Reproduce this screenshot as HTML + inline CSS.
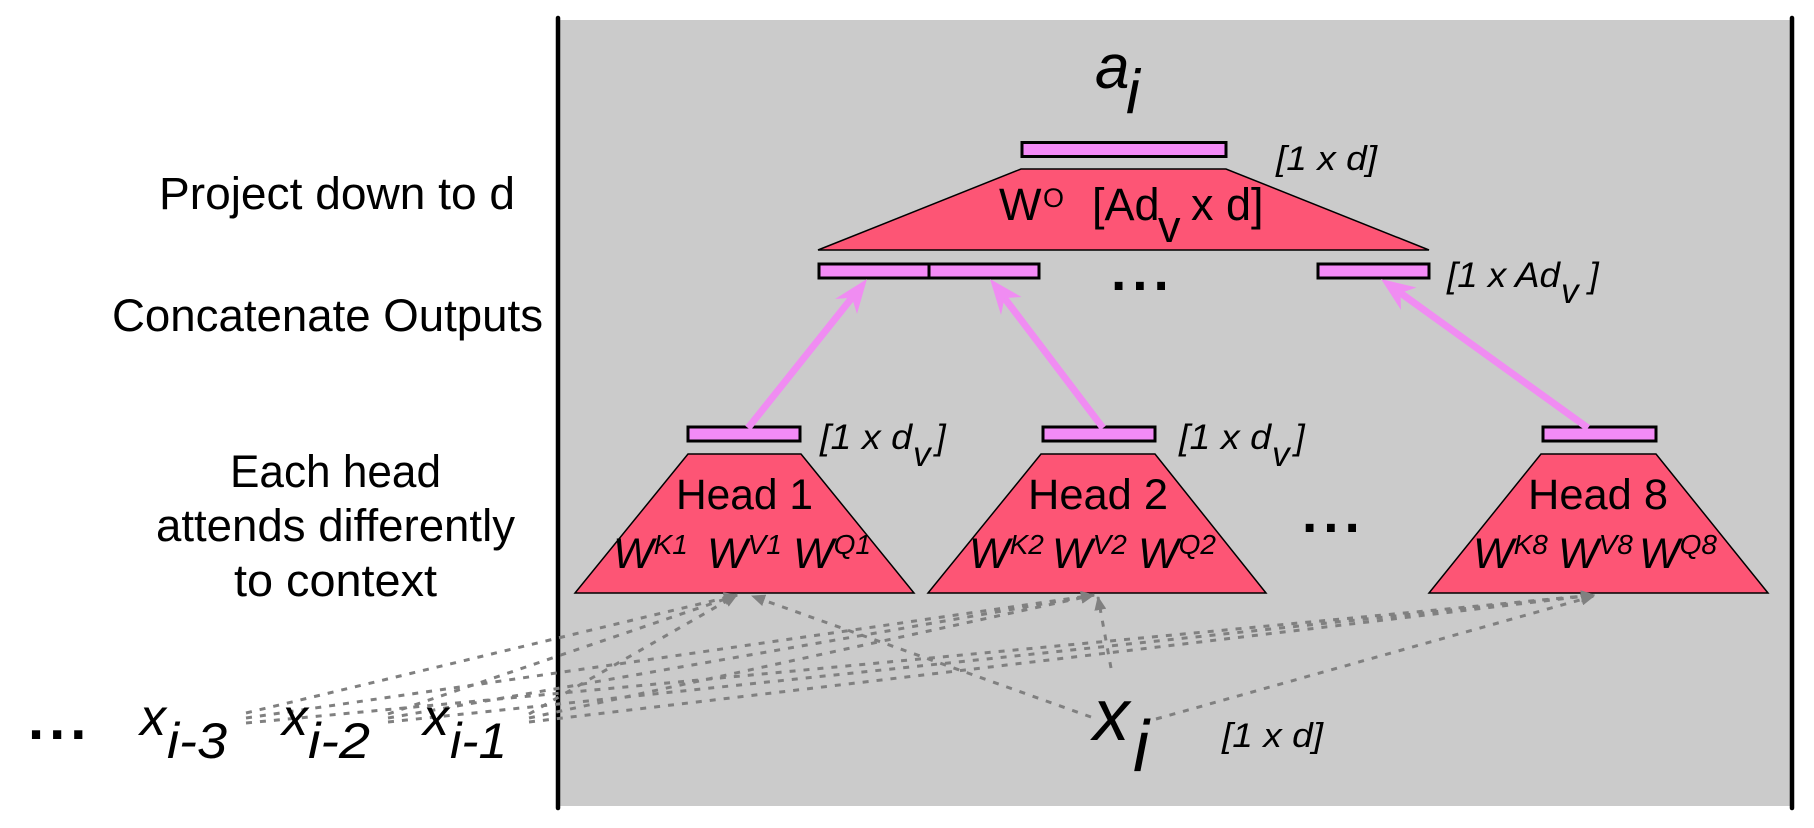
<!DOCTYPE html>
<html>
<head>
<meta charset="utf-8">
<style>
  html,body{margin:0;padding:0;background:#ffffff;}
  svg{display:block;}
  text{font-family:"Liberation Sans", Arial, sans-serif; fill:#000;}
</style>
</head>
<body>
<svg width="1814" height="828" viewBox="0 0 1814 828" xmlns="http://www.w3.org/2000/svg">
  <defs>
    <marker id="ga" markerUnits="userSpaceOnUse" markerWidth="14" markerHeight="12" refX="13" refY="6" orient="auto">
      <path d="M0,0 L14,6 L0,12 Z" fill="#808080"/>
    </marker>
  </defs>

  <!-- grey panel -->
  <rect x="560" y="20" width="1231" height="786" fill="#cbcbcb"/>
  <line x1="558" y1="18" x2="558" y2="808" stroke="#000" stroke-width="4.5" stroke-linecap="round"/>
  <line x1="1792" y1="18" x2="1792" y2="808" stroke="#000" stroke-width="4.5" stroke-linecap="round"/>

  <!-- top output bar -->
  <rect x="1022" y="142.5" width="204" height="14" fill="#f38bf6" stroke="#000" stroke-width="3"/>
  <!-- W^O trapezoid -->
  <polygon points="1021,169 1226,169 1429,250 818,250" fill="#fd5575" stroke="#000" stroke-width="1.5"/>

  <!-- concat bars -->
  <rect x="819" y="264" width="110" height="14" fill="#f38bf6" stroke="#000" stroke-width="3"/>
  <rect x="929" y="264" width="110" height="14" fill="#f38bf6" stroke="#000" stroke-width="3"/>
  <rect x="1318" y="264" width="111" height="14" fill="#f38bf6" stroke="#000" stroke-width="3"/>

  <!-- head bars -->
  <rect x="688" y="427" width="112" height="14" fill="#f38bf6" stroke="#000" stroke-width="3"/>
  <rect x="1043" y="427" width="112" height="14" fill="#f38bf6" stroke="#000" stroke-width="3"/>
  <rect x="1543" y="427" width="113" height="14" fill="#f38bf6" stroke="#000" stroke-width="3"/>

  <!-- head trapezoids -->
  <polygon points="688,454 801,454 914,593 575,593" fill="#fd5575" stroke="#000" stroke-width="1.5"/>
  <polygon points="1041,454 1155,454 1266,593 928,593" fill="#fd5575" stroke="#000" stroke-width="1.5"/>
  <polygon points="1541,454 1656,454 1768,593 1429,593" fill="#fd5575" stroke="#000" stroke-width="1.5"/>

  <!-- pink arrows -->
  <g stroke="#f08cf2" stroke-width="7" fill="none">
    <line x1="748" y1="428" x2="852" y2="297.7"/>
    <line x1="1103" y1="428" x2="1004.5" y2="298.1"/>
    <line x1="1588" y1="428" x2="1400.5" y2="293"/>
  </g>
  <g fill="#f08cf2">
    <polygon points="867,279 857,314 852,297.7 835,299"/>
    <polygon points="990,279 1021.5,297 1004.5,298.1 1001,315"/>
    <polygon points="1381,279 1416.5,287.5 1400.5,293 1401,310"/>
  </g>

  <!-- dashed grey connectors -->
  <g stroke="#808080" stroke-width="3" stroke-dasharray="6 8" fill="none" marker-end="url(#ga)">
    <line x1="246" y1="713" x2="737" y2="595"/>
    <line x1="246" y1="718" x2="1094" y2="595"/>
    <line x1="246" y1="723" x2="1594" y2="595"/>
    <line x1="388" y1="714" x2="737" y2="595"/>
    <line x1="388" y1="718" x2="1094" y2="595"/>
    <line x1="388" y1="722" x2="1594" y2="595"/>
    <line x1="529" y1="714" x2="737" y2="595"/>
    <line x1="529" y1="718" x2="1094" y2="595"/>
    <line x1="529" y1="722" x2="1594" y2="595"/>
    <line x1="1091" y1="717" x2="752" y2="596"/>
    <line x1="1111" y1="668" x2="1098" y2="597"/>
    <line x1="1156" y1="719" x2="1594" y2="596"/>
  </g>

  <!-- left labels -->
  <text x="337" y="209" font-size="45" text-anchor="middle" textLength="356" lengthAdjust="spacingAndGlyphs">Project down to d</text>
  <text x="327.5" y="331" font-size="45" text-anchor="middle" textLength="431" lengthAdjust="spacingAndGlyphs">Concatenate Outputs</text>
  <text x="335.5" y="487" font-size="45" text-anchor="middle" textLength="211" lengthAdjust="spacingAndGlyphs">Each head</text>
  <text x="335.5" y="541" font-size="45" text-anchor="middle" textLength="359" lengthAdjust="spacingAndGlyphs">attends differently</text>
  <text x="335.5" y="596" font-size="45" text-anchor="middle" textLength="203" lengthAdjust="spacingAndGlyphs">to context</text>

  <!-- a_i -->
  <text x="1095" y="88" font-size="62" font-style="italic">a</text>
  <text x="1126" y="113" font-size="62" font-style="italic">i</text>
  <text x="1276" y="170" font-size="34" font-style="italic" textLength="101" lengthAdjust="spacingAndGlyphs">[1 x d]</text>

  <!-- W^O [Ad_v x d] -->
  <text x="999" y="220" font-size="45">W</text>
  <text x="1043" y="207" font-size="27">O</text>
  <text x="1092" y="220" font-size="45">[Ad</text>
  <text x="1158" y="242" font-size="45">v</text>
  <text x="1191" y="220" font-size="45">x d]</text>

  <!-- concat label -->
  <text x="1447" y="287" font-size="35" font-style="italic" textLength="113" lengthAdjust="spacingAndGlyphs">[1 x Ad</text>
  <text x="1561" y="303" font-size="35" font-style="italic">v</text>
  <text x="1589" y="287" font-size="35" font-style="italic">]</text>

  <!-- ellipses -->
  <text x="1111" y="290" font-size="55" font-weight="bold" letter-spacing="6">...</text>
  <text x="1302" y="532" font-size="55" font-weight="bold" letter-spacing="6">...</text>
  <text x="28" y="739" font-size="58" font-weight="bold" letter-spacing="5">...</text>

  <!-- head dv labels -->
  <text x="820" y="449" font-size="35" font-style="italic" textLength="92" lengthAdjust="spacingAndGlyphs">[1 x d</text>
  <text x="913" y="466" font-size="35" font-style="italic">v</text>
  <text x="936" y="449" font-size="35" font-style="italic">]</text>
  <text x="1179" y="449" font-size="35" font-style="italic" textLength="92" lengthAdjust="spacingAndGlyphs">[1 x d</text>
  <text x="1272" y="466" font-size="35" font-style="italic">v</text>
  <text x="1295" y="449" font-size="35" font-style="italic">]</text>

  <!-- Head names -->
  <text x="744.5" y="509" font-size="43" text-anchor="middle" textLength="137" lengthAdjust="spacingAndGlyphs">Head 1</text>
  <text x="1098" y="509" font-size="43" text-anchor="middle" textLength="140" lengthAdjust="spacingAndGlyphs">Head 2</text>
  <text x="1598" y="509" font-size="43" text-anchor="middle" textLength="140" lengthAdjust="spacingAndGlyphs">Head 8</text>

  <!-- W rows -->
  <g font-size="43" font-style="italic">
    <text x="613" y="568">W<tspan font-size="28" dy="-14">K1</tspan></text>
    <text x="707" y="568">W<tspan font-size="28" dy="-14">V1</tspan></text>
    <text x="793" y="568">W<tspan font-size="28" dy="-14">Q1</tspan></text>

    <text x="969" y="568">W<tspan font-size="28" dy="-14">K2</tspan></text>
    <text x="1052" y="568">W<tspan font-size="28" dy="-14">V2</tspan></text>
    <text x="1138" y="568">W<tspan font-size="28" dy="-14">Q2</tspan></text>

    <text x="1473" y="568">W<tspan font-size="28" dy="-14">K8</tspan></text>
    <text x="1558" y="568">W<tspan font-size="28" dy="-14">V8</tspan></text>
    <text x="1639" y="568">W<tspan font-size="28" dy="-14">Q8</tspan></text>
  </g>

  <!-- x_i -->
  <text x="1093" y="740" font-size="73" font-style="italic">x</text>
  <text x="1133" y="771" font-size="72" font-style="italic">i</text>
  <text x="1222" y="747" font-size="34" font-style="italic" textLength="101" lengthAdjust="spacingAndGlyphs">[1 x d]</text>

  <!-- context tokens -->
  <text x="140" y="735" font-size="52" font-style="italic">x</text>
  <text x="167" y="758" font-size="50" font-style="italic" textLength="60" lengthAdjust="spacingAndGlyphs">i-3</text>
  <text x="282" y="735" font-size="52" font-style="italic">x</text>
  <text x="308" y="758" font-size="50" font-style="italic" textLength="62" lengthAdjust="spacingAndGlyphs">i-2</text>
  <text x="423" y="735" font-size="52" font-style="italic">x</text>
  <text x="450" y="758" font-size="50" font-style="italic" textLength="57" lengthAdjust="spacingAndGlyphs">i-1</text>
</svg>
</body>
</html>
